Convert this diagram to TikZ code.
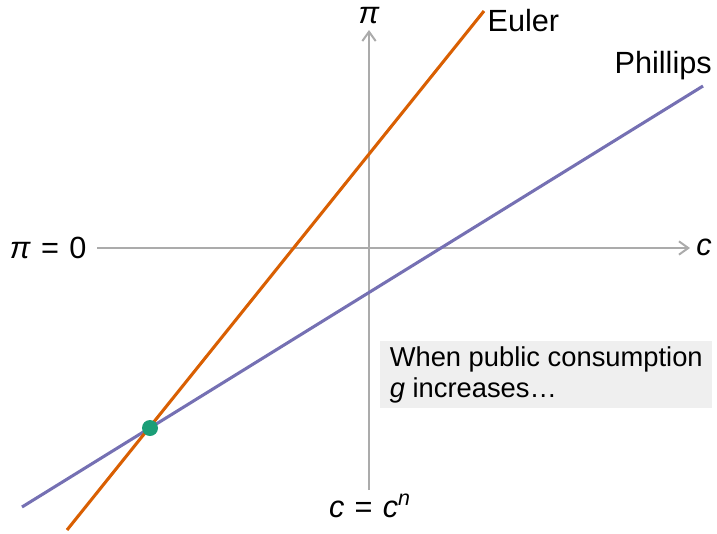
\documentclass[tikz,border=0pt]{standalone}
\usepackage{fontspec}
\setmainfont{Liberation Sans}
\usetikzlibrary{arrows.meta}

\definecolor{eulercol}{HTML}{D95F02}
\definecolor{phillipscol}{HTML}{7570B3}
\definecolor{dotcol}{HTML}{1B9E77}
\definecolor{axiscol}{HTML}{ABABAB}
\definecolor{notecol}{HTML}{EFEFEF}

\begin{document}
\begin{tikzpicture}[x=0.75pt,y=-0.75pt,>={Straight Barb[length=7pt,width=10pt]},
  axis/.style={draw=axiscol,line width=1.5pt,->},
  curve/.style={line width=2.3pt},
  lab/.style={inner sep=1pt,font=\fontsize{23}{27}\selectfont}]
\useasboundingbox (0,0) rectangle (717,533);
% axes
\coordinate (xl) at (97,248);
\coordinate (xr) at (690,248);
\coordinate (yb) at (369,490);
\coordinate (yt) at (369,30);
\draw[axis] (xl) -- (xr);
\draw[axis] (yb) -- (yt);
\node[lab] (piy) at (369,16) {\textit{π}};
\node[lab] (cx) at (704,247) {\textit{c}};
\node[lab,anchor=east] (pizero) at (88,248) {\textit{π}\,\,=\,\,0};
\node[lab] (cn) at (370,506) {\textit{c}\,\,=\,\,\textit{c}\textsuperscript{\textit{n}}};
% Phillips and Euler lines
\coordinate (pa) at (22,507);
\coordinate (pb) at (703,86);
\coordinate (ea) at (67,530);
\coordinate (eb) at (484,11);
\draw[curve,phillipscol] (pa) -- (pb);
\draw[curve,eulercol] (ea) -- (eb);
\node[lab,anchor=west] (euler) at (486,21) {Euler};
\node[lab,anchor=west] (phillips) at (613,66) {Phillips};
% steady state
\fill[dotcol] (150,428) circle (8);
% note
\node[anchor=north west,fill=notecol,minimum width=249pt,minimum height=50pt,
  inner xsep=4.5pt,inner ysep=3pt,align=left,
  font=\fontsize{20.5}{23.5}\selectfont] (note) at (380,341)
  {When public consumption\\\textit{g} increases…};
\end{tikzpicture}
\end{document}
